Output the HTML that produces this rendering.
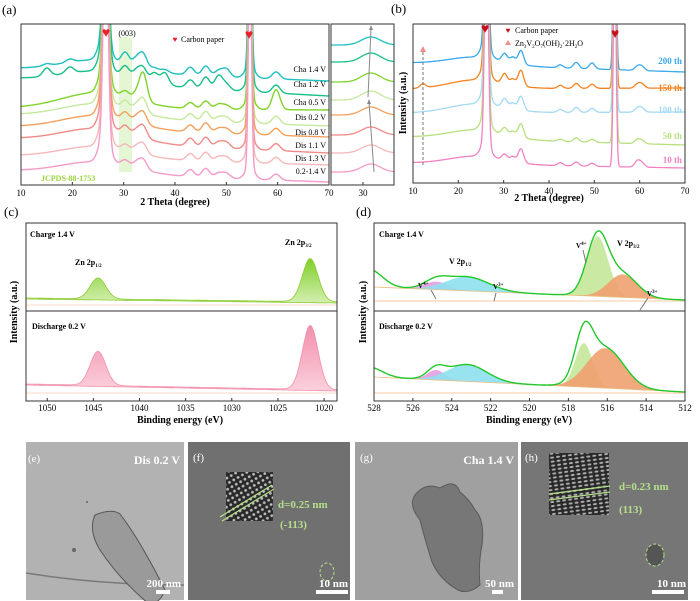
<!DOCTYPE html>
<html><head><meta charset="utf-8"><style>
html,body{margin:0;padding:0;background:#fff;}
svg{display:block;font-family:"Liberation Serif",serif;}
.b{font-weight:bold}
</style></head><body>
<svg id="s" width="700" height="601" viewBox="0 0 700 601">
<defs>
<clipPath id="ca"><rect x="21" y="24" width="308" height="161"/></clipPath>
<clipPath id="cai"><rect x="331" y="20" width="63" height="163"/></clipPath>
<clipPath id="cb"><rect x="413" y="24" width="272" height="159"/></clipPath>
<clipPath id="cc"><rect x="26" y="223" width="311" height="178"/></clipPath>
<clipPath id="cd"><rect x="374" y="223" width="311" height="178"/></clipPath>
<linearGradient id="gG" x1="0" y1="0" x2="0" y2="1"><stop offset="0" stop-color="#7fcf2a"/><stop offset="1" stop-color="#d4efb0"/></linearGradient>
<linearGradient id="gP" x1="0" y1="0" x2="0" y2="1"><stop offset="0" stop-color="#f28fac"/><stop offset="1" stop-color="#fbd0dc"/></linearGradient>
<pattern id="lat" width="5" height="5" patternUnits="userSpaceOnUse" patternTransform="rotate(-30)"><rect width="5" height="5" fill="#2a2a2a"/><circle cx="2.5" cy="2.5" r="1.4" fill="#bdbdbd"/></pattern>
<pattern id="lat2" width="6" height="4" patternUnits="userSpaceOnUse" patternTransform="rotate(-8)"><rect width="6" height="4" fill="#2a2a2a"/><ellipse cx="3" cy="2" rx="2" ry="1" fill="#b0b0b0"/></pattern>
</defs>

<text x="2" y="14" font-size="13">(a)</text>
<text x="391" y="13" font-size="13">(b)</text>
<text x="4" y="216" font-size="13">(c)</text>
<text x="356" y="216" font-size="13">(d)</text>

<g id="pa">
<rect x="119" y="37" width="13" height="135" fill="#d8f2c0" opacity="0.7"/>
<g id="aTraces" clip-path="url(#ca)"></g>
<rect x="21" y="24" width="308" height="161" fill="none" stroke="#333" stroke-width="1"/>
<g id="aAxis"></g>
<text x="127" y="36" font-size="8" text-anchor="middle">(003)</text>
<text x="106" y="37" font-size="14" fill="#e8202a" text-anchor="middle">♥</text>
<text x="249" y="39" font-size="14" fill="#e8202a" text-anchor="middle">♥</text>
<text x="175" y="42" font-size="8" fill="#e8202a" text-anchor="middle">♥</text>
<text x="181" y="42" font-size="8">Carbon paper</text>
<text x="41" y="181" font-size="8" fill="#9ad43a" class="b">JCPDS-88-1753</text>
<text x="175" y="205" font-size="10" class="b" text-anchor="middle">2 Theta (degree)</text>
<g id="aInset" clip-path="url(#cai)"></g>
<rect x="331" y="24" width="63" height="161" fill="none" stroke="#333"/>
<line x1="374" y1="172" x2="369" y2="102" stroke="#888" stroke-width="1"/>
<polygon points="369,99 367,104 371,104" fill="#888"/>
<line x1="368" y1="97" x2="371" y2="28" stroke="#888" stroke-width="1"/>
<polygon points="371,25 369,30 373,30" fill="#888"/>
<line x1="363" y1="185" x2="363" y2="182" stroke="#333"/>
<text x="363" y="196" font-size="9" text-anchor="middle">30</text>
</g>

<g id="pb">
<g id="bTraces" clip-path="url(#cb)"></g>
<rect x="413" y="24" width="272" height="159" fill="none" stroke="#333"/>
<g id="bAxis"></g>
<text transform="translate(406,103) rotate(-90)" font-size="10" class="b" text-anchor="middle">Intensity (a.u.)</text>
<text x="549" y="201" font-size="10" class="b" text-anchor="middle">2 Theta (degree)</text>
<text x="485" y="33" font-size="14" fill="#c8101a" text-anchor="middle">♥</text>
<text x="615" y="38" font-size="14" fill="#c8101a" text-anchor="middle">♥</text>
<text x="508" y="33" font-size="8" fill="#c8101a" text-anchor="middle">♥</text>
<text x="515" y="33" font-size="8">Carbon paper</text>
<polygon points="508,40 505,45 511,45" fill="#f48a8a"/>
<text x="515" y="46" font-size="8">Zn<tspan font-size="5" dy="2">3</tspan><tspan dy="-2">V</tspan><tspan font-size="5" dy="2">2</tspan><tspan dy="-2">O</tspan><tspan font-size="5" dy="2">7</tspan><tspan dy="-2">(OH)</tspan><tspan font-size="5" dy="2">2</tspan><tspan dy="-2">·2H</tspan><tspan font-size="5" dy="2">2</tspan><tspan dy="-2">O</tspan></text>
<line x1="423" y1="165" x2="423" y2="52" stroke="#777" stroke-dasharray="3,2"/>
<polygon points="423,46 420,52 426,52" fill="#f48a8a"/>
<g id="bLabels"></g>
</g>

<g id="pc">
<g id="cPlot" clip-path="url(#cc)"></g>
<rect x="26" y="223" width="311" height="178" fill="none" stroke="#333"/>
<line x1="26" y1="311" x2="337" y2="311" stroke="#333"/>
<g id="cAxis"></g>
<text transform="translate(17,312) rotate(-90)" font-size="10" class="b" text-anchor="middle">Intensity (a.u.)</text>
<text x="180" y="423" font-size="10" class="b" text-anchor="middle">Binding energy (eV)</text>
<text x="30" y="237" font-size="8" class="b">Charge 1.4 V</text>
<text x="75" y="265" font-size="8" class="b">Zn 2p<tspan font-size="5" dy="2">1/2</tspan></text>
<text x="285" y="245" font-size="8" class="b">Zn 2p<tspan font-size="5" dy="2">3/2</tspan></text>
<text x="32" y="329" font-size="8" class="b">Discharge 0.2 V</text>
</g>

<g id="pd">
<g id="dPlot" clip-path="url(#cd)"></g>
<rect x="374" y="223" width="311" height="178" fill="none" stroke="#333"/>
<line x1="374" y1="311" x2="685" y2="311" stroke="#333"/>
<g id="dAxis"></g>
<text transform="translate(366,312) rotate(-90)" font-size="10" class="b" text-anchor="middle">Intensity (a.u.)</text>
<text x="529" y="423" font-size="10" class="b" text-anchor="middle">Binding energy (eV)</text>
<text x="379" y="237" font-size="8" class="b">Charge 1.4 V</text>
<text x="449" y="264" font-size="8" class="b">V 2p<tspan font-size="5" dy="2">1/2</tspan></text>
<text x="617" y="246" font-size="8" class="b">V 2p<tspan font-size="5" dy="2">3/2</tspan></text>
<text x="418" y="288" font-size="7" class="b">V<tspan font-size="5" dy="-3">4+</tspan></text>
<text x="493" y="289" font-size="7" class="b">V<tspan font-size="5" dy="-3">3+</tspan></text>
<text x="576" y="248" font-size="7" class="b">V<tspan font-size="5" dy="-3">4+</tspan></text>
<text x="647" y="296" font-size="7" class="b">V<tspan font-size="5" dy="-3">3+</tspan></text>
<g stroke="#777" stroke-width="1">
<line x1="431" y1="290" x2="436" y2="299"/><line x1="496" y1="293" x2="494" y2="301"/><line x1="583" y1="250" x2="586" y2="263"/><line x1="648" y1="298" x2="640" y2="310"/>
</g>
<text x="379" y="329" font-size="8" class="b">Discharge 0.2 V</text>
</g>

<g>
<rect x="26" y="442" width="158" height="158" fill="#b2b2b2"/>
<path d="M26,573 Q100,585 184,585" stroke="#7a7a7a" stroke-width="1.5" fill="none"/>
<path d="M95,515 Q112,508 120,514 Q140,540 165,590 Q160,603 150,605 Q120,580 100,550 Q88,530 95,515Z" fill="#9a9a9a" stroke="#555" stroke-width="1"/>
<circle cx="74" cy="550" r="2" fill="#666"/><circle cx="87" cy="502" r="1" fill="#666"/>
<text x="28" y="462" font-size="11" fill="#fff">(e)</text>
<text x="180" y="464" font-size="12" fill="#fff" class="b" text-anchor="end">Dis 0.2 V</text>
<text x="181" y="587" font-size="11" fill="#fff" class="b" text-anchor="end">200 nm</text>
<rect x="156" y="590" width="14" height="4" fill="#fff"/>
</g>
<g>
<rect x="188" y="442" width="162" height="158" fill="#707070"/>
<rect x="226" y="472" width="47" height="49" fill="url(#lat)"/>
<line x1="220" y1="517" x2="272" y2="485" stroke="#b5e08a" stroke-width="1.2"/><line x1="222" y1="521" x2="274" y2="489" stroke="#b5e08a" stroke-width="1.2"/>
<ellipse cx="327" cy="572" rx="7" ry="9" fill="none" stroke="#b5e08a" stroke-dasharray="3,2"/>
<text x="193" y="461" font-size="11" fill="#fff">(f)</text>
<text x="278" y="508" font-size="11" fill="#b5e08a" class="b">d=0.25 nm</text>
<text x="280" y="528" font-size="11" fill="#b5e08a" class="b">(-113)</text>
<text x="348" y="587" font-size="11" fill="#fff" class="b" text-anchor="end">10 nm</text>
<rect x="316" y="590" width="32" height="4" fill="#fff"/>
</g>
<g>
<rect x="355" y="442" width="163" height="158" fill="#a0a0a0"/>
<path d="M415,495 Q425,482 440,488 Q455,478 460,492 Q470,500 475,510 Q485,520 482,545 Q478,565 480,585 Q468,595 458,590 Q440,580 432,562 Q425,540 420,520 Q408,505 415,495Z" fill="#777" stroke="#5a5a5a"/>
<text x="360" y="461" font-size="11" fill="#fff">(g)</text>
<text x="514" y="464" font-size="12" fill="#fff" class="b" text-anchor="end">Cha 1.4 V</text>
<text x="514" y="587" font-size="11" fill="#fff" class="b" text-anchor="end">50 nm</text>
<rect x="492" y="590" width="11" height="4" fill="#fff"/>
</g>
<g>
<rect x="521" y="442" width="167" height="158" fill="#767676"/>
<rect x="549" y="453" width="60" height="62" fill="url(#lat2)"/>
<line x1="549" y1="494" x2="610" y2="486" stroke="#b5e08a" stroke-width="1.2"/><line x1="549" y1="500" x2="610" y2="492" stroke="#b5e08a" stroke-width="1.2"/>
<ellipse cx="655" cy="555" rx="9" ry="11" fill="#555" stroke="#b5e08a" stroke-dasharray="3,2"/>
<text x="525" y="461" font-size="11" fill="#fff">(h)</text>
<text x="619" y="490" font-size="11" fill="#b5e08a" class="b">d=0.23 nm</text>
<text x="619" y="513" font-size="11" fill="#b5e08a" class="b">(113)</text>
<text x="686" y="587" font-size="11" fill="#fff" class="b" text-anchor="end">10 nm</text>
<rect x="652" y="590" width="32" height="4" fill="#fff"/>
</g>
</svg>
<script>
const aLabels=["Cha 1.4 V","Cha 1.2 V","Cha 0.5 V","Dis 0.2 V","Dis 0.8 V","Dis 1.1 V","Dis 1.3 V","0.2-1.4 V"];
const aColors=["#1fbfbf","#17bf8a","#7fd32a","#c6e89e","#f3a05c","#f28a86","#f6b8b8","#f49ac8"];
const aBaseLeft=[116,106,77,70,58,46,29,14];
const aBaseRight=[104,89,75,59,48,32,20,3];
const aHump=[12,12,16,14,14,14,12,12];
const aPeakPos=[15,19.5,30.3,32.5,33.8,36,38,43,46,48.5,50,59.7];
const aPeakAmp=[
 [2,3,12,8,14,3,3,8,10,6,8,7],
 [8,6,10,8,12,10,12,8,12,14,6,8],
 [0,0,6,6,28,0,0,6,8,5,4,20],
 [0,0,8,6,14,0,0,7,10,5,5,8],
 [0,0,8,6,12,0,0,7,10,5,5,7],
 [0,0,8,6,12,0,0,8,10,6,6,7],
 [0,0,6,6,10,0,0,7,9,5,5,6],
 [0,0,6,6,10,0,0,7,9,5,5,6]];
const aLabelY=[72,87,105,120,135,148,161,174];
const aTicks=[10,20,30,40,50,60,70];
const iBase=[138,121,101,83,68,48,30,11];
const iAmp=[8,9,9,9,8,8,8,8];
const bLabels=["200 th","150 th","100 th","50 th","10 th"];
const bColors=["#3aa9ee","#f5821f","#a3d9f4","#b7e07e","#f282c2"];
const bBaseLeft=[120,94,70,46,20];
const bBaseRight=[111,95,71,38,15];
const bPeakPos=[12.2,30.2,32,33.8,42.5,46,49.5,59.5,60.5];
const bPeakAmp=[[0,8,6,14,3,6,6,4,4],[4,10,6,16,3,5,4,4,4],[0,9,6,14,3,5,4,4,4],[0,7,5,14,2,4,3,4,3],[0,6,5,14,3,4,3,6,4]];
const bHump=[8,9,9,9,8];
const bLabelY=[64,91,113,139,163];
const bTicks=[10,20,30,40,50,60,70];
const cPeakPos=[1044.5,1021.5];
const cChargeAmp=[21,43];
const cDisAmp=[34,64];
const cChargeBase=[298,302];
const cDisBase=[384,390];
const cTicks=[1050,1045,1040,1035,1030,1025,1020];
const dCompPos=[524.8,523.2,516.5,515.2];
const dCompW=[0.6,1.1,0.55,0.75];
const dChargeAmp=[8,14,60,23];
const dChargeTail=[18];
const dDisPos=[524.8,523.2,517.2,516.1];
const dDisW=[0.45,1.0,0.45,0.95];
const dDisAmp=[10,17,44,40];
const dDisTail=[10];
const dCompColors=["#e59ee0","#8ee0ee","#c4e89a","#f0a070"];
const dChargeBase=[287,300];
const dDisBase=[377,392];
const dTicks=[528,526,524,522,520,518,516,514,512];

const NS="http://www.w3.org/2000/svg";
function mk(tag,attrs,parent){const e=document.createElementNS(NS,tag);for(const k in attrs)e.setAttribute(k,attrs[k]);parent.appendChild(e);return e;}
function g(x,c,w){return Math.exp(-0.5*((x-c)/w)**2);}
const axA=v=>21+(v-10)/60*308, ayA=c=>185-c;
const axI=v=>331+(v-27)/6*63;
const axB=v=>413+(v-10)/60*272, ayB=c=>183-c;
const axC=v=>26+(1052.3-v)/(1052.3-1018.6)*311;
const axD=v=>374+(528-v)/16*311;

function ticks(group,ticks,fx,y0,labY){
 const G=document.getElementById(group);
 ticks.forEach(t=>{const x=fx(t);
  mk('line',{x1:x,y1:y0,x2:x,y2:y0-3,stroke:'#333'},G);
  const tx=mk('text',{x:x,y:labY,'font-size':9,'text-anchor':'middle'},G);tx.textContent=t;
  
  
 });
}
ticks('aAxis',aTicks,axA,185,196);
ticks('bAxis',bTicks,axB,183,194);
ticks('cAxis',cTicks,axC,401,411);
ticks('dAxis',dTicks,axD,401,411);

const aT=document.getElementById('aTraces');
aLabels.forEach((lab,i)=>{
 let d='';
 for(let x=10;x<=70;x+=0.1){
  let c=aBaseLeft[i]+(aBaseRight[i]-aBaseLeft[i])*(x-10)/60+aHump[i]*g(x,25,7);
  aPeakPos.forEach((p,j)=>{c+=aPeakAmp[i][j]*g(x,p,0.75);});
  c+=220*g(x,26.5,0.45)+30*g(x,26.3,1.0)+220*g(x,54.6,0.3)+12*g(x,54.6,0.9);
  d+=(d?'L':'M')+axA(x).toFixed(1)+','+ayA(c).toFixed(1);
 }
 const p=mk('path',{d:d,fill:'none',stroke:aColors[i],'stroke-width':1.4},aT);
 
 
 const t=mk('text',{x:326,y:aLabelY[i],'font-size':8,'text-anchor':'end'},document.getElementById('pa'));
 t.textContent=lab;
 
 
});
const aI=document.getElementById('aInset');
iBase.forEach((b,i)=>{
 let d='';
 for(let x=27;x<=33;x+=0.05){
  const c=b+iAmp[i]*g(x,30.8,0.9);
  d+=(d?'L':'M')+axI(x).toFixed(1)+','+(183-c).toFixed(1);
 }
 const p=mk('path',{d:d,fill:'none',stroke:aColors[i],'stroke-width':1.3},aI);
 
 
});

const bT=document.getElementById('bTraces');
bLabels.forEach((lab,i)=>{
 let d='';
 for(let x=10;x<=70;x+=0.1){
  let c=bBaseLeft[i]+(bBaseRight[i]-bBaseLeft[i])*(x-10)/60+bHump[i]*g(x,24,6);
  bPeakPos.forEach((p,j)=>{c+=bPeakAmp[i][j]*g(x,p,0.6);});
  c+=220*g(x,26.2,0.4)+15*g(x,26,1)+220*g(x,54.5,0.3);
  d+=(d?'L':'M')+axB(x).toFixed(1)+','+ayB(c).toFixed(1);
 }
 const p=mk('path',{d:d,fill:'none',stroke:bColors[i],'stroke-width':1.3},bT);
 
 
 const t=mk('text',{x:682,y:bLabelY[i],'font-size':9,'text-anchor':'end',fill:bColors[i],'font-weight':'bold'},document.getElementById('bLabels'));
 t.textContent=lab;
 
 
});

const cP=document.getElementById('cPlot');
function cSpec(amp,base,fill,stroke,name){
 const pts=[];
 for(let e=1052.3;e>=1018.6;e-=0.05){
  const b=base[0]+(base[1]-base[0])*(1052.3-e)/33.7;
  let c=0;cPeakPos.forEach((p,j)=>{c+=amp[j]*g(e,p,0.85);});
  pts.push([axC(e),b-c,b]);
 }
 const d='M'+pts.map(p=>p[0].toFixed(1)+','+p[1].toFixed(1)).join('L')+'L'+pts.slice().reverse().map(p=>p[0].toFixed(1)+','+(p[2]+1).toFixed(1)).join('L')+'Z';
 const p=mk('path',{d:d,fill:fill,stroke:stroke,'stroke-width':0.8},cP);
 
 
 mk('line',{x1:26,y1:base[1]+3,x2:337,y2:base[1]+3,stroke:'#f8d8c8','stroke-width':1},cP);
}
cSpec(cChargeAmp,cChargeBase,'url(#gG)','#8ccc30','spectrum-charge-zn');
cSpec(cDisAmp,cDisBase,'url(#gP)','#f28fac','spectrum-discharge-zn');

const dP=document.getElementById('dPlot');
function dSpec(pos,w,amp,tail,base,name){
 const bfun=e=>base[0]+(base[1]-base[0])*(528-e)/16;
 pos.forEach((p,j)=>{
  const pts=[];
  for(let e=528;e>=512;e-=0.05){pts.push([axD(e),bfun(e)-amp[j]*g(e,p,w[j]),bfun(e)]);}
  const d='M'+pts.map(q=>q[0].toFixed(1)+','+q[1].toFixed(1)).join('L')+'L'+pts.slice().reverse().map(q=>q[0].toFixed(1)+','+q[2].toFixed(1)).join('L')+'Z';
  const el=mk('path',{d:d,fill:dCompColors[j],opacity:0.9},dP);
  
  
 });
 let d='';
 for(let e=528;e>=512;e-=0.05){
  let c=tail[0]*g(e,528.3,0.7);pos.forEach((p,j)=>{c+=amp[j]*g(e,p,w[j]);});
  d+=(d?'L':'M')+axD(e).toFixed(1)+','+(bfun(e)-c).toFixed(1);
 }
 mk('line',{x1:374,y1:base[1]+1,x2:685,y2:base[1]+1,stroke:'#f8c8a0','stroke-width':1},dP);
 mk('path',{d:'M'+axD(528)+','+bfun(528)+'L'+axD(512)+','+bfun(512),stroke:'#e8c080','stroke-width':0.8,fill:'none'},dP);
 const env=mk('path',{d:d,fill:'none',stroke:'#22c82a','stroke-width':1.4},dP);
 
 
}
dSpec(dCompPos,dCompW,dChargeAmp,dChargeTail,dChargeBase,'charge-v');
dSpec(dDisPos,dDisW,dDisAmp,dDisTail,dDisBase,'discharge-v');
</script>
</body></html>
